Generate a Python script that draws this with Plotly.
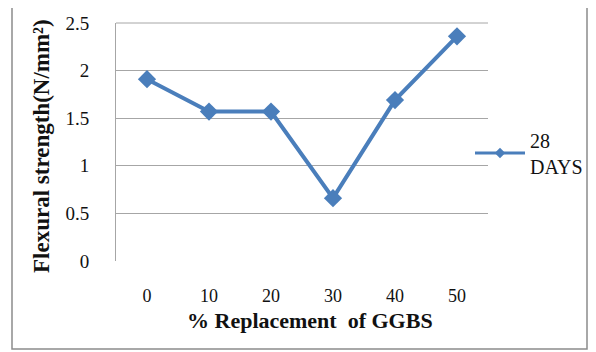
import plotly.graph_objects as go

categories = ["0", "10", "20", "30", "40", "50"]
values_28_days = [1.91, 1.57, 1.57, 0.66, 1.69, 2.36]
series_name = "28<br>DAYS"
y_ticks = [0, 0.5, 1, 1.5, 2, 2.5]
y_tick_labels = ["0", "0.5", "1", "1.5", "2", "2.5"]

OFF = 8  # page body margin
W, H = 596 - OFF, 352 - OFF
L, R, T, B = 116 - OFF, 488 - OFF, 23 - OFF, 261 - OFF
pw, ph = R - L, B - T

def px(x):
    return (x - OFF - L) / pw

def py(y):
    return (B - (y - OFF)) / ph

serif = "'Times New Roman', 'Liberation Serif', serif"
ink = "#111111"
blue = "#4a7ebb"

fig = go.Figure()
fig.add_trace(go.Scatter(
    x=categories, y=values_28_days, mode="lines+markers",
    name=series_name, showlegend=False,
    line=dict(color=blue, width=4),
    marker=dict(symbol="diamond", size=14, color=blue),
))
# legend entry (Excel-style smaller marker)
fig.add_trace(go.Scatter(
    x=[None], y=[None], mode="lines+markers", name=series_name,
    line=dict(color=blue, width=3),
    marker=dict(symbol="diamond", size=8, color=blue),
))

fig.update_layout(
    width=W, height=H,
    margin=dict(l=L, r=W - R, t=T, b=H - B, autoexpand=False),
    paper_bgcolor="white", plot_bgcolor="white",
    font=dict(family=serif, size=18, color=ink),
    showlegend=True,
    legend=dict(x=px(470), y=py(153), xanchor="left", yanchor="middle",
                font=dict(family=serif, size=20, color=ink),
                itemwidth=50, bgcolor="rgba(0,0,0,0)"),
    xaxis=dict(type="category", range=[-0.5, 5.5], showgrid=False,
               showline=False, zeroline=False, ticks="", automargin=False,
               ticklabelstandoff=22, tickfont=dict(family=serif, size=18, color=ink)),
    yaxis=dict(range=[0, 2.5], tickvals=y_ticks, ticktext=y_tick_labels,
               showgrid=True, gridcolor="#a6a6a6", gridwidth=1,
               showline=True, linecolor="#a6a6a6", linewidth=1, automargin=False,
               zeroline=False, ticks="", ticklabelstandoff=22,
               tickfont=dict(family=serif, size=19, color=ink)),
)

fig.add_shape(type="line", xref="paper", yref="paper", x0=0, x1=1, y0=1, y1=1,
              line=dict(color="#a6a6a6", width=1))
fig.add_shape(type="rect", xref="paper", yref="paper",
              x0=px(12), x1=px(587), y0=py(6), y1=py(349),
              line=dict(color="#8c8c8c", width=1.5), layer="below")

fig.add_annotation(text="<b>Flexural strength(N/mm²)</b>", xref="paper", yref="paper",
                   x=px(41), y=py(146), textangle=-90, showarrow=False,
                   xanchor="center", yanchor="middle",
                   font=dict(family=serif, size=23, color=ink))
fig.add_annotation(text="<b>% Replacement&nbsp; of GGBS</b>", xref="paper", yref="paper",
                   x=px(310), y=py(320), showarrow=False,
                   xanchor="center", yanchor="middle",
                   font=dict(family=serif, size=22, color=ink))

fig.write_html("out.html")
